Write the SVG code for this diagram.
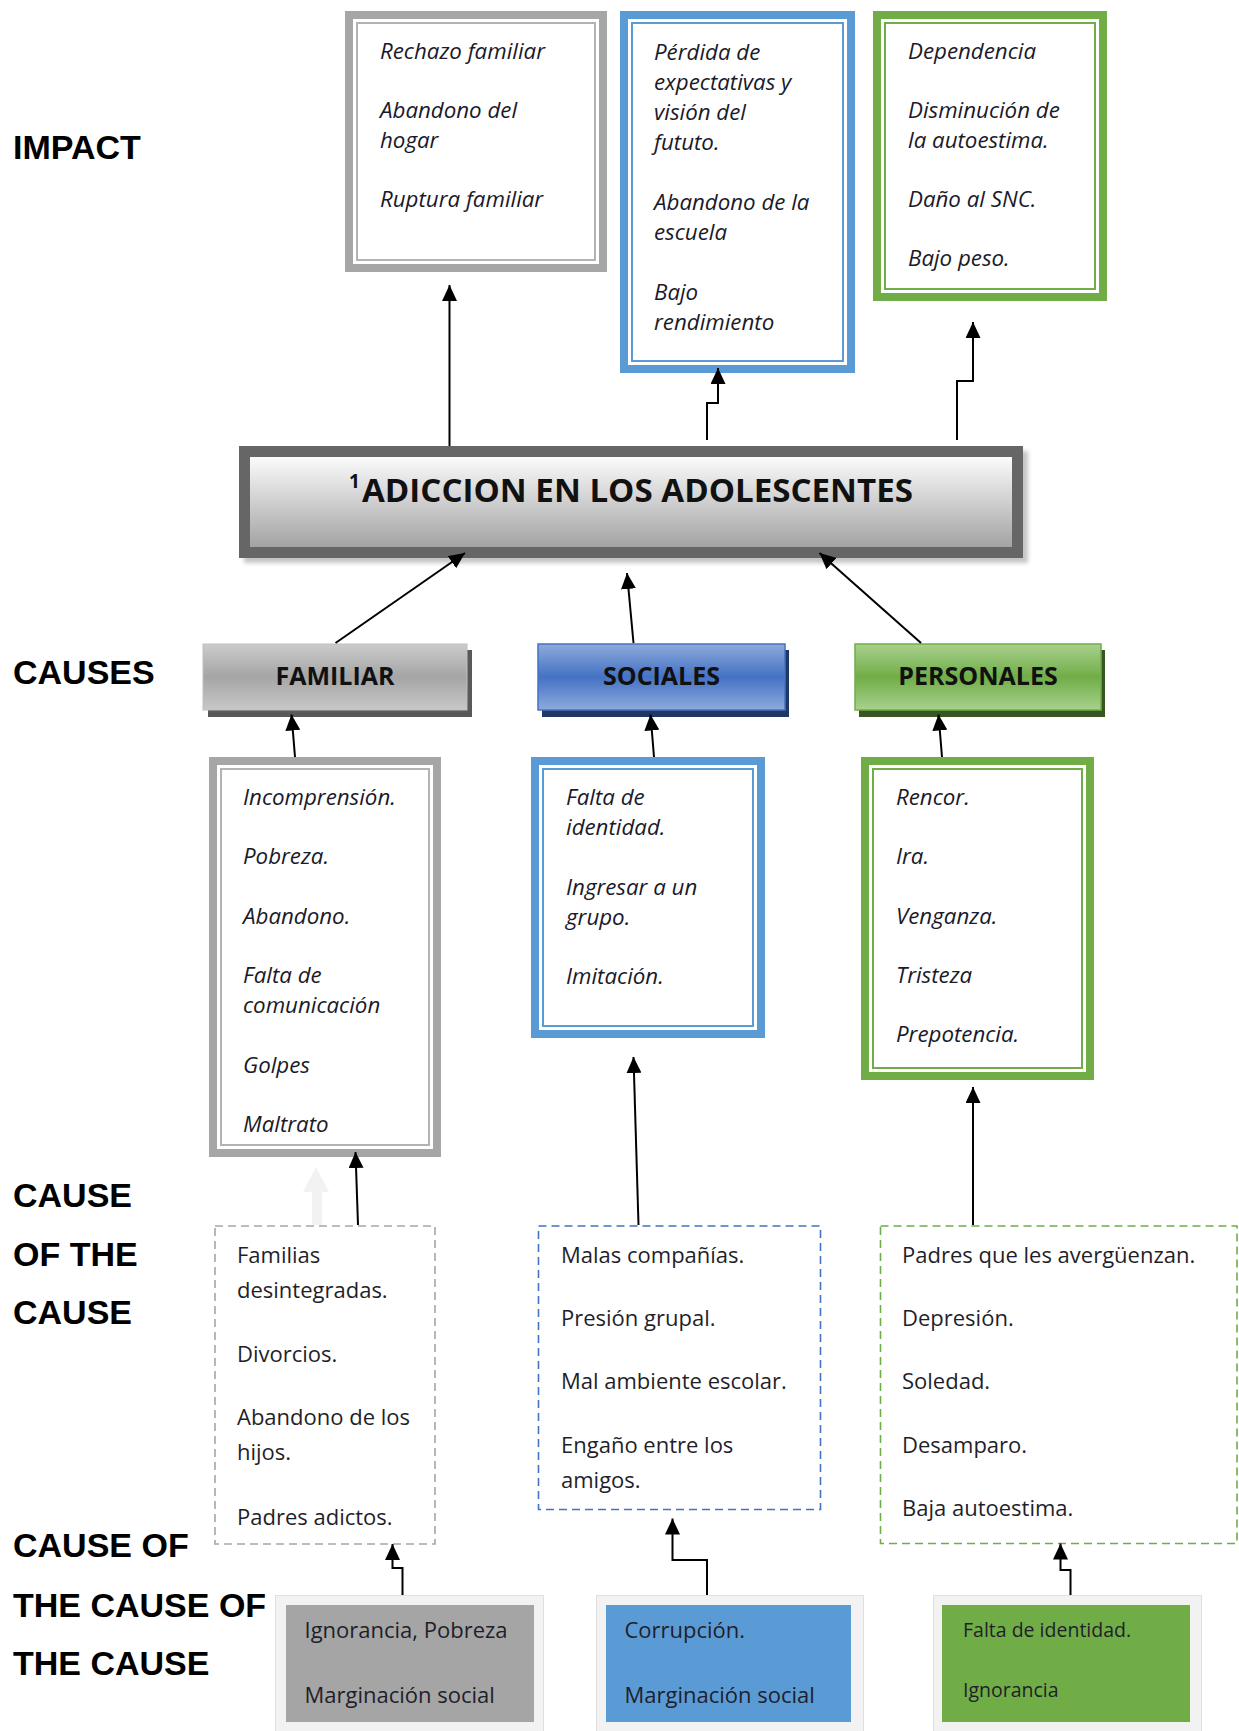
<svg xmlns="http://www.w3.org/2000/svg" width="1239" height="1731" viewBox="0 0 1239 1731">
<defs>
<linearGradient id="mainGrad" x1="0" y1="0" x2="0" y2="1"><stop offset="0" stop-color="#fbfbfb"/><stop offset="1" stop-color="#a3a3a3"/></linearGradient>
<linearGradient id="grayBtn" x1="0" y1="0" x2="0" y2="1"><stop offset="0" stop-color="#cbcbcb"/><stop offset="0.5" stop-color="#a5a5a5"/><stop offset="1" stop-color="#c8c8c8"/></linearGradient>
<linearGradient id="blueBtn" x1="0" y1="0" x2="0" y2="1"><stop offset="0" stop-color="#8eaadb"/><stop offset="0.5" stop-color="#4472c4"/><stop offset="1" stop-color="#8eaadb"/></linearGradient>
<linearGradient id="greenBtn" x1="0" y1="0" x2="0" y2="1"><stop offset="0" stop-color="#a9d18e"/><stop offset="0.5" stop-color="#70ad47"/><stop offset="1" stop-color="#a9d18e"/></linearGradient>
<filter id="soft" x="-5%" y="-20%" width="110%" height="140%"><feGaussianBlur stdDeviation="2"/></filter>
<marker id="arr" markerUnits="userSpaceOnUse" markerWidth="16" markerHeight="15" viewBox="0 0 16 15" refX="16" refY="7.5" orient="auto"><path d="M0,0 L16,7.5 L0,15 z" fill="#000"/></marker>
<style>
.lbl{font-family:"Liberation Sans",Arial,sans-serif;font-weight:bold;font-size:34px;fill:#000}
.it{font-family:"Open Sans","Noto Sans",sans-serif;font-style:italic;font-size:22.3px;fill:#1a1a2a}
.rg{font-family:"Open Sans","Noto Sans",sans-serif;font-size:22px;fill:#1f1f2a}
.sm{font-family:"Open Sans","Noto Sans",sans-serif;font-size:19.5px;fill:#1f1f2a}
.btn{font-family:"Open Sans","Noto Sans",sans-serif;font-weight:bold;font-size:25px;fill:#111;text-anchor:middle}
.title{font-family:"Open Sans","Noto Sans",sans-serif;font-weight:bold;font-size:33px;fill:#111}
.sup{font-family:"Open Sans","Noto Sans",sans-serif;font-weight:bold;font-size:19px;fill:#111}
.conn{fill:none;stroke:#000;stroke-width:2;marker-end:url(#arr)}
.dbl-g{fill:#fff;stroke:#a6a6a6;stroke-width:8}
.dbl-b{fill:#fff;stroke:#5b9bd5;stroke-width:8}
.dbl-n{fill:#fff;stroke:#70ad47;stroke-width:8}
.in-g{fill:none;stroke:#b3b3b3;stroke-width:2}
.in-b{fill:none;stroke:#5b9bd5;stroke-width:2}
.in-n{fill:none;stroke:#70ad47;stroke-width:2}
.dash{fill:#fff;stroke-width:1.6;stroke-dasharray:8 5}
.frame{fill:#f2f2f2;stroke:#e0e0e0;stroke-width:1}
</style>
</defs>
<rect width="1239" height="1731" fill="#fff"/>

<g id="labels">
<text class="lbl" x="13" y="159">IMPACT</text>
<text class="lbl" x="13" y="684">CAUSES</text>
<text class="lbl" x="13" y="1207">CAUSE</text>
<text class="lbl" x="13" y="1266">OF THE</text>
<text class="lbl" x="13" y="1324">CAUSE</text>
<text class="lbl" x="13" y="1557">CAUSE OF</text>
<text class="lbl" x="13" y="1617">THE CAUSE OF</text>
<text class="lbl" x="13" y="1675">THE CAUSE</text>
</g>

<g id="impact-familiar">
<rect class="dbl-g" x="349" y="15" width="254" height="253"/>
<rect class="in-g" x="357" y="23" width="238" height="237"/>
<text class="it" x="380" y="59">Rechazo familiar</text>
<text class="it" x="380" y="118">Abandono del</text>
<text class="it" x="380" y="148">hogar</text>
<text class="it" x="380" y="207">Ruptura familiar</text>
</g>

<g id="impact-social">
<rect class="dbl-b" x="624" y="15" width="227" height="354"/>
<rect class="in-b" x="632" y="23" width="211" height="338"/>
<text class="it" x="654" y="60">Pérdida de</text>
<text class="it" x="654" y="90">expectativas y</text>
<text class="it" x="654" y="120">visión del</text>
<text class="it" x="654" y="150">fututo.</text>
<text class="it" x="654" y="210">Abandono de la</text>
<text class="it" x="654" y="240">escuela</text>
<text class="it" x="654" y="300">Bajo</text>
<text class="it" x="654" y="330">rendimiento</text>
</g>

<g id="impact-personal">
<rect class="dbl-n" x="877" y="15" width="226" height="282"/>
<rect class="in-n" x="885" y="23" width="210" height="266"/>
<text class="it" x="908" y="59">Dependencia</text>
<text class="it" x="908" y="118">Disminución de</text>
<text class="it" x="908" y="148">la autoestima.</text>
<text class="it" x="908" y="207">Daño al SNC.</text>
<text class="it" x="908" y="266">Bajo peso.</text>
</g>

<g id="main">
<rect x="244" y="451" width="784" height="112" fill="#c4c4c4" filter="url(#soft)"/>
<rect x="239" y="446" width="784" height="112" fill="#666"/>
<rect x="250" y="457" width="762" height="90" fill="url(#mainGrad)"/>
<text class="sup" x="349" y="488">1</text>
<text class="title" x="362" y="502" textLength="551" lengthAdjust="spacingAndGlyphs">ADICCION EN LOS ADOLESCENTES</text>
</g>

<g id="cause-familiar">
<rect x="208" y="650" width="264" height="67" fill="#595959"/>
<rect x="203" y="644" width="264" height="66" fill="url(#grayBtn)" stroke="#bfbfbf" stroke-width="1"/>
<text class="btn" x="335" y="685">FAMILIAR</text>
</g>
<g id="cause-sociales">
<rect x="542" y="650" width="247" height="67" fill="#203864"/>
<rect x="538" y="644" width="247" height="66" fill="url(#blueBtn)" stroke="#4472c4" stroke-width="1.5"/>
<text class="btn" x="661.5" y="685">SOCIALES</text>
</g>
<g id="cause-personales">
<rect x="859" y="650" width="246" height="67" fill="#375623"/>
<rect x="855" y="644" width="246" height="66" fill="url(#greenBtn)" stroke="#70ad47" stroke-width="1.5"/>
<text class="btn" x="978" y="685">PERSONALES</text>
</g>

<g id="detail-familiar">
<rect class="dbl-g" x="213" y="761" width="224" height="392"/>
<rect class="in-g" x="221" y="769" width="208" height="376"/>
<text class="it" x="243" y="805">Incomprensión.</text>
<text class="it" x="243" y="864">Pobreza.</text>
<text class="it" x="243" y="924">Abandono.</text>
<text class="it" x="243" y="983">Falta de</text>
<text class="it" x="243" y="1013">comunicación</text>
<text class="it" x="243" y="1073">Golpes</text>
<text class="it" x="243" y="1132">Maltrato</text>
</g>

<g id="detail-sociales">
<rect class="dbl-b" x="535" y="761" width="226" height="273"/>
<rect class="in-b" x="543" y="769" width="210" height="257"/>
<text class="it" x="566" y="805">Falta de</text>
<text class="it" x="566" y="835">identidad.</text>
<text class="it" x="566" y="895">Ingresar a un</text>
<text class="it" x="566" y="925">grupo.</text>
<text class="it" x="566" y="984">Imitación.</text>
</g>

<g id="detail-personales">
<rect class="dbl-n" x="865" y="761" width="225" height="315"/>
<rect class="in-n" x="873" y="769" width="209" height="299"/>
<text class="it" x="896" y="805">Rencor.</text>
<text class="it" x="896" y="864">Ira.</text>
<text class="it" x="896" y="924">Venganza.</text>
<text class="it" x="896" y="983">Tristeza</text>
<text class="it" x="896" y="1042">Prepotencia.</text>
</g>

<g id="ghost-arrow">
<polygon points="312,1225 312,1192 303,1192 316,1167 329,1192 322,1192 322,1225" fill="#f2f2f2"/>
</g>

<g id="coc-familiar">
<rect class="dash" x="215" y="1226" width="220" height="318" stroke="#a6a6a6"/>
<text class="rg" x="237" y="1263">Familias</text>
<text class="rg" x="237" y="1298">desintegradas.</text>
<text class="rg" x="237" y="1362">Divorcios.</text>
<text class="rg" x="237" y="1425">Abandono de los</text>
<text class="rg" x="237" y="1460">hijos.</text>
<text class="rg" x="237" y="1525">Padres adictos.</text>
</g>

<g id="coc-sociales">
<rect class="dash" x="538.5" y="1226" width="282" height="283.5" stroke="#4472c4"/>
<text class="rg" x="561" y="1263">Malas compañías.</text>
<text class="rg" x="561" y="1326">Presión grupal.</text>
<text class="rg" x="561" y="1389">Mal ambiente escolar.</text>
<text class="rg" x="561" y="1453">Engaño entre los</text>
<text class="rg" x="561" y="1488">amigos.</text>
</g>

<g id="coc-personales">
<rect class="dash" x="880.5" y="1226" width="356.5" height="317.5" stroke="#70ad47"/>
<text class="rg" x="902" y="1263">Padres que les avergüenzan.</text>
<text class="rg" x="902" y="1326">Depresión.</text>
<text class="rg" x="902" y="1389">Soledad.</text>
<text class="rg" x="902" y="1453">Desamparo.</text>
<text class="rg" x="902" y="1516">Baja autoestima.</text>
</g>

<g id="cocoC-familiar">
<rect class="frame" x="275.5" y="1595.5" width="268" height="140"/>
<rect x="286" y="1605" width="248" height="117" fill="#a5a5a5"/>
<text class="rg" x="304.5" y="1638">Ignorancia, Pobreza</text>
<text class="rg" x="304.5" y="1703">Marginación social</text>
</g>

<g id="cocoC-sociales">
<rect class="frame" x="596.5" y="1595.5" width="267" height="140"/>
<rect x="606" y="1605" width="245" height="117" fill="#5b9bd5"/>
<text class="rg" x="624.5" y="1638">Corrupción.</text>
<text class="rg" x="624.5" y="1703">Marginación social</text>
</g>

<g id="cocoC-personales">
<rect class="frame" x="933.5" y="1595.5" width="268" height="140"/>
<rect x="942" y="1605" width="248" height="117" fill="#70ad47"/>
<text class="sm" x="963" y="1637">Falta de identidad.</text>
<text class="sm" x="963" y="1697">Ignorancia</text>
</g>

<g id="connectors">
<path class="conn" d="M449.5 446 V285"/>
<path class="conn" d="M707 440 V403 H718 V368"/>
<path class="conn" d="M957 440 V381 H973 V322"/>
<path class="conn" d="M335.5 643 L465 553"/>
<path class="conn" d="M633.5 643 L627 573"/>
<path class="conn" d="M921 643 L819.5 553"/>
<path class="conn" d="M295 757 L291.5 714.5"/>
<path class="conn" d="M654 757 L650.5 714.5"/>
<path class="conn" d="M942 757 L938.5 714.5"/>
<path class="conn" d="M358 1225 L355.5 1152"/>
<path class="conn" d="M638.5 1225 L633.5 1057"/>
<path class="conn" d="M973 1225 V1087"/>
<path class="conn" d="M402.5 1595 V1568 H392.5 V1544"/>
<path class="conn" d="M707 1595 V1560 H672.5 V1518.5"/>
<path class="conn" d="M1070.5 1595 V1570 H1060.5 V1543.5"/>
</g>
</svg>
